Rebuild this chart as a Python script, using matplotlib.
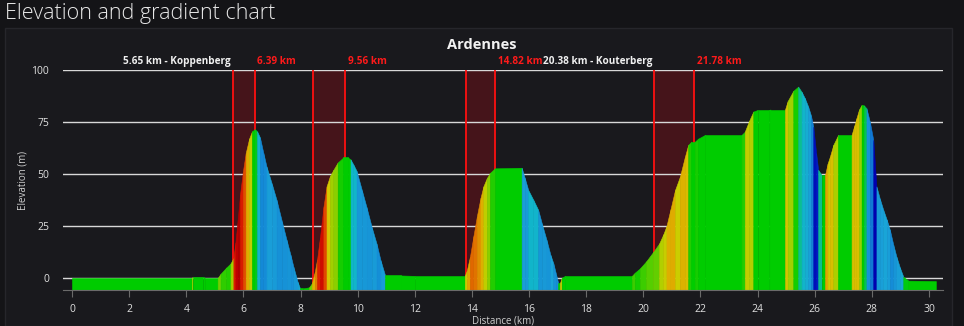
import matplotlib
matplotlib.use("Agg")
import matplotlib.pyplot as plt
from matplotlib.colors import LinearSegmentedColormap
from matplotlib.patches import Rectangle

# Route profile: distance (km) and elevation (m)
dist_km = [0.00, 4.20, 4.22, 4.60, 4.65, 5.10, 5.20, 5.40, 5.55, 5.65,
           5.72, 5.80, 5.88, 5.98, 6.08, 6.20, 6.30, 6.40, 6.48, 6.58,
           6.70, 6.81, 7.00, 7.16, 7.35, 7.51, 7.65, 7.75, 7.90, 7.98,
           8.10, 8.30, 8.40, 8.50, 8.58, 8.68, 8.80, 8.91, 9.03, 9.15,
           9.30, 9.50, 9.65, 9.75, 9.85, 9.96, 10.15, 10.31, 10.50, 10.66,
           10.80, 10.96, 11.50, 12.00, 13.75, 13.82, 13.93, 14.05, 14.17, 14.30,
           14.40, 14.52, 14.63, 14.80, 15.74, 15.85, 15.97, 16.15, 16.32, 16.45,
           16.61, 16.75, 16.85, 16.95, 17.02, 17.08, 17.14, 17.26, 19.60, 19.70,
           19.88, 20.10, 20.35, 20.55, 20.70, 20.81, 20.95, 21.11, 21.28, 21.45,
           21.57, 21.68, 21.80, 21.92, 22.16, 23.44, 23.55, 23.70, 23.85, 24.00,
           24.40, 24.45, 24.96, 25.05, 25.25, 25.42, 25.54, 25.65, 25.77, 25.87,
           25.95, 26.05, 26.12, 26.24, 26.36, 26.45, 26.53, 26.65, 26.82, 27.29,
           27.38, 27.46, 27.55, 27.64, 27.72, 27.81, 27.93, 28.05, 28.16, 28.28,
           28.40, 28.52, 28.63, 28.75, 28.86, 28.98, 29.10, 29.28, 30.24]
elev_m = [0.0, 0.0, 0.5, 0.5, 0.0, 0.0, 2.0, 5.0, 7.0, 9.5,
          17.0, 28.0, 40.0, 51.0, 60.0, 67.0, 70.5, 71.5, 70.5, 67.5,
          60.0, 53.5, 45.0, 37.5, 27.0, 18.3, 11.0, 5.4, -2.0, -5.0,
          -5.0, -4.5, -2.5, 3.0, 9.0, 19.5, 34.0, 44.0, 49.0, 52.0,
          55.5, 58.0, 58.0, 57.0, 54.5, 51.5, 42.0, 34.0, 24.0, 16.5,
          8.5, 1.2, 1.2, 1.0, 1.0, 3.5, 10.2, 20.0, 29.5, 38.5,
          44.0, 48.0, 50.5, 52.7, 53.0, 48.0, 42.3, 37.5, 32.7, 26.0,
          18.3, 11.0, 7.0, 1.5, -2.5, -2.5, 0.0, 1.0, 1.0, 2.5,
          4.6, 8.0, 12.6, 16.5, 21.0, 25.0, 33.0, 42.3, 48.7, 58.0,
          64.0, 65.5, 65.5, 67.0, 68.8, 68.8, 70.3, 75.5, 80.0, 80.8,
          80.8, 81.0, 81.0, 85.0, 90.0, 92.0, 89.5, 86.5, 82.4, 78.0,
          72.7, 60.0, 52.0, 49.5, 49.5, 55.0, 58.3, 64.0, 68.8, 68.8,
          73.0, 76.8, 81.0, 83.2, 83.0, 81.6, 75.0, 66.3, 44.0, 38.0,
          32.7, 28.0, 23.1, 16.0, 10.2, 5.0, 0.6, -1.3, -1.5]

# Highlighted climbs
zone_start = [5.65, 8.43, 13.79, 20.38]
zone_end = [6.39, 9.56, 14.82, 21.78]
start_labels = ["5.65 km - Koppenberg", "", "", "20.38 km - Kouterberg"]
end_labels = ["6.39 km", "9.56 km", "14.82 km", "21.78 km"]

y_ticks = [0, 25, 50, 75, 100]
x_ticks = [0, 2, 4, 6, 8, 10, 12, 14, 16, 18, 20, 22, 24, 26, 28, 30]

# gradient (%) -> colour
grad_lo, grad_hi = -14.0, 17.0
grad_stops = [(-14, "#0000b0"), (-10, "#0030d0"), (-7, "#1280d6"), (-4, "#1aa4d8"),
              (-2.5, "#10b8c8"), (-1, "#00cc00"), (1, "#00cc00"), (2.5, "#a0d000"),
              (4, "#d4cc00"), (6, "#e0a800"), (8, "#e07000"), (10, "#e02800"),
              (13, "#c80000"), (17, "#a00000")]
cmap = LinearSegmentedColormap.from_list(
    "grad", [((g - grad_lo) / (grad_hi - grad_lo), c) for g, c in grad_stops])

bg_outer = "#141417"
bg_panel = "#19191d"

fig = plt.figure(figsize=(9.64, 3.26), dpi=100)
fig.patch.set_facecolor(bg_outer)
W, H = 964, 326

panel = Rectangle((5 / W, 0), 947 / W, 298 / H, transform=fig.transFigure,
                  facecolor=bg_panel, edgecolor="#26262b", lw=1, zorder=-5)
fig.patches.append(panel)

fig.text(5 / W, 1 - 13 / H, "Elevation and gradient chart", color="#e8e8e8",
         fontsize=15.5, fontfamily="Open Sans", fontweight="light", va="center", ha="left")

ax = fig.add_axes([63 / W, 1 - 290 / H, 880 / W, 220 / H])
ax.set_zorder(2)
ax.set_facecolor("none")
ymin = -5.8
ax.set_xlim(-0.315, 30.49)
ax.set_ylim(ymin, 100)

# zones behind profile
for s, e in zip(zone_start, zone_end):
    ax.axvspan(s, e, color="#45141a", lw=0, zorder=1)
    ax.axvline(s, color="#ff1010", lw=1.3, zorder=2)
    ax.axvline(e, color="#ff1010", lw=1.3, zorder=2)

for t in y_ticks:
    ax.axhline(t, color="#d8d8d8", lw=1, zorder=1.5)

# gradient-coloured profile
for i in range(len(dist_km) - 1):
    x0, x1 = dist_km[i], dist_km[i + 1]
    y0, y1 = elev_m[i], elev_m[i + 1]
    g = (y1 - y0) / ((x1 - x0) * 1000) * 100
    c = cmap((min(max(g, grad_lo), grad_hi) - grad_lo) / (grad_hi - grad_lo))
    ax.fill_between([x0, x1], [ymin, ymin], [y0, y1], color=c, lw=0.4, ec=c, zorder=3)

for s, e, sl, el in zip(zone_start, zone_end, start_labels, end_labels):
    if sl:
        ax.text(s - 0.08, 104.3, sl, color="#f0f0f0", fontsize=7.2, fontweight="bold",
                fontfamily="Open Sans", ha="right", va="center", clip_on=False)
    ax.text(e + 0.1, 104.3, el, color="#ff1a1a", fontsize=7.2, fontweight="bold",
            fontfamily="Open Sans", ha="left", va="center", clip_on=False)

fig.text(482 / W, 1 - 45 / H, "Ardennes", color="#f2f2f2", fontsize=10.5,
         fontweight="bold", fontfamily="Open Sans", ha="center", va="center")

ax.set_yticks(y_ticks)
ax.set_xticks(x_ticks)
ax.tick_params(axis="y", length=0, pad=10, labelcolor="#e0e0e0", labelsize=7.5)
ax.tick_params(axis="x", length=5, width=0.8, color="#6a6a6a", pad=5,
               labelcolor="#e0e0e0", labelsize=7.5)
for lab in ax.get_xticklabels() + ax.get_yticklabels():
    lab.set_fontfamily("Open Sans")
for side in ["top", "right", "left"]:
    ax.spines[side].set_visible(False)
ax.spines["bottom"].set_color("#6a6a6a")
ax.spines["bottom"].set_zorder(4)

ax.set_ylabel("Elevation (m)", color="#d0d0d0", fontsize=7, fontfamily="Open Sans", labelpad=2)
ax.set_xlabel("Distance (km)", color="#d0d0d0", fontsize=7, fontfamily="Open Sans", labelpad=0.5)

fig.savefig("out.png", dpi=100, facecolor=fig.get_facecolor())
